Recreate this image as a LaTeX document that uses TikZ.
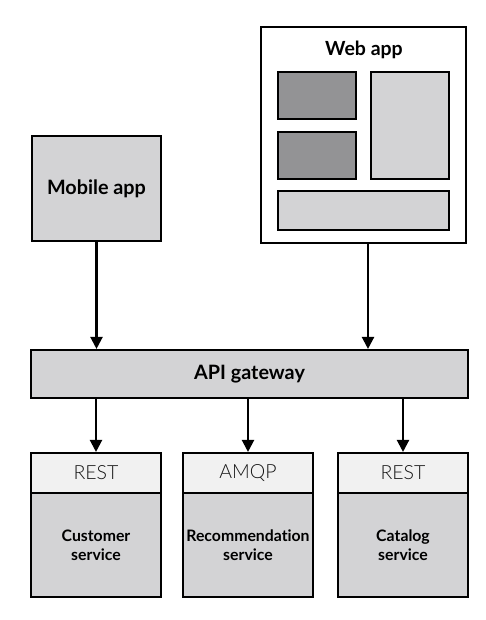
\documentclass[tikz,border=0pt]{standalone}
\usepackage{fontspec}
\setmainfont{Lato}[Ligatures=CommonOff]
\newfontfamily\latolight{Lato Light}[Ligatures=CommonOff]
\usetikzlibrary{arrows.meta}
\definecolor{bodygray}{RGB}{211,211,213}
\definecolor{darkgray2}{RGB}{147,147,149}
\definecolor{hdrgray}{RGB}{241,241,241}
\definecolor{hdrtext}{RGB}{20,20,20}
\tikzset{
  box/.style={draw=black, line width=2.1pt, fill=bodygray, inner sep=0pt},
  darkbox/.style={box, fill=darkgray2},
  hdr/.style={draw=black, line width=2.1pt, fill=hdrgray, inner sep=0pt, text=hdrtext, font=\latolight\fontsize{19.5}{21}\selectfont},
  svc/.style={box, align=center, font=\fontsize{15.8}{19}\selectfont\bfseries},
  conn/.style={line width=2.2pt, -{Triangle[length=12pt,width=12pt]}},
}
\begin{document}
\begin{tikzpicture}[x=1pt,y=-1pt]
\useasboundingbox (0,0) rectangle (486,620);
% Mobile app
\node[box, minimum width=129pt, minimum height=105pt, font=\fontsize{19.8}{22}\selectfont\bfseries] (mobile) at (96.5,188.5) {Mobile app};
% Web app
\node[box, fill=white, minimum width=205pt, minimum height=216pt] (web) at (363.5,135) {};
\node[font=\fontsize{19.5}{22}\selectfont\bfseries] (webtitle) at (364,50) {Web app};
\node[darkbox, minimum width=78pt, minimum height=47pt] (d1) at (317,95.5) {};
\node[darkbox, minimum width=78pt, minimum height=47pt] (d2) at (317,155.5) {};
\node[box, minimum width=78pt, minimum height=107pt] (l1) at (410,125.5) {};
\node[box, minimum width=171pt, minimum height=39pt] (l2) at (363.5,210.5) {};
% API gateway
\node[box, minimum width=437pt, minimum height=48pt, font=\fontsize{19.8}{22}\selectfont\bfseries] (api) at (249.5,374) {API gateway};
% Services
\node[hdr, minimum width=130pt, minimum height=40pt] (h1) at (96,473) {REST};
\node[svc, minimum width=130pt, minimum height=104pt] (s1) at (96,545) {Customer\\service};
\node[hdr, minimum width=130pt, minimum height=40pt] (h2) at (248,473) {AMQP};
\node[svc, minimum width=130pt, minimum height=104pt] (s2) at (248,545) {Recommendation\\service};
\node[hdr, minimum width=130pt, minimum height=40pt] (h3) at (403,473) {REST};
\node[svc, minimum width=130pt, minimum height=104pt] (s3) at (403,545) {Catalog\\service};
% connectors
\draw[conn] (mobile.south) -- (mobile.south |- api.north);
\draw[conn] ([xshift=4.5pt]web.south) -- ([xshift=4.5pt]web.south |- api.north);
\draw[conn] (h1.north |- api.south) -- (h1.north);
\draw[conn] (h2.north |- api.south) -- (h2.north);
\draw[conn] (h3.north |- api.south) -- (h3.north);
\end{tikzpicture}
\end{document}
